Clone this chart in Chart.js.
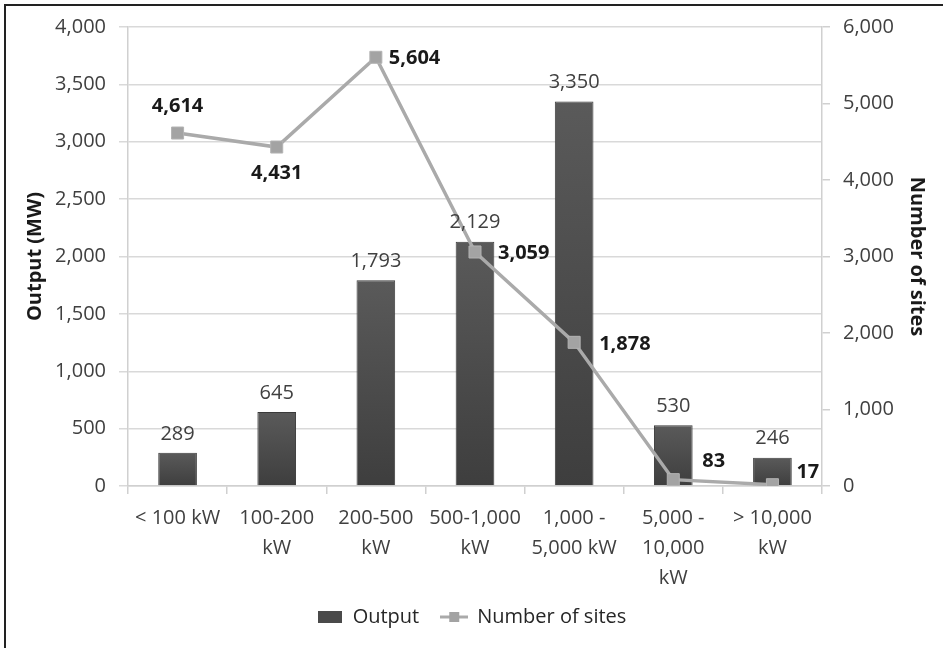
<!DOCTYPE html>
<html>
<head>
<meta charset="utf-8">
<script src="https://cdn.jsdelivr.net/npm/chart.js@4"></script>
<style>
  body { margin: 0; background: #fff; }
  #wrap { position: relative; width: 943px; height: 648px; }
  #frame { position: absolute; left: 4px; top: 4px; width: 960px; height: 660px;
           border-left: 2px solid #222; border-top: 2px solid #222; pointer-events: none; }
</style>
</head>
<body>
<div id="wrap">
  <canvas id="chart"></canvas>
  <div id="frame"></div>
</div>
<script>
// data
var categories = ['< 100 kW', ['100-200', 'kW'], ['200-500', 'kW'], ['500-1,000', 'kW'],
                  ['1,000 -', '5,000 kW'], ['5,000 -', '10,000', 'kW'], ['> 10,000', 'kW']];
var outputMW = [289, 645, 1793, 2129, 3350, 530, 246];
var sites = [4614, 4431, 5604, 3059, 1878, 83, 17];
var outputTicks = { max: 4000, step: 500 };
var sitesTicks = { max: 6000, step: 1000 };

var FONT = "'Open Sans', sans-serif";
var fmt = function(v) { return Number(v).toLocaleString('en-US'); };

// where each site label sits relative to its marker
var siteLabelPos = [[0, -27, 'center'], [0, 26, 'center'], [13, 1, 'left'], [23, 1, 'left'],
                    [25, 2, 'left'], [29, -18, 'left'], [24, -12, 'left']];

// legend icons
function barIcon() {
    var c = document.createElement('canvas');
    c.width = 24; c.height = 12;
    var g = c.getContext('2d');
    g.fillStyle = '#4a4a4a';
    g.fillRect(0, 0, 24, 12);
    return c;
}
function lineIcon() {
    var c = document.createElement('canvas');
    c.width = 28; c.height = 12;
    var g = c.getContext('2d');
    g.strokeStyle = '#aaaaaa'; g.lineWidth = 3;
    g.beginPath(); g.moveTo(0, 6); g.lineTo(28, 6); g.stroke();
    g.fillStyle = '#a3a3a3';
    g.fillRect(9, 1, 10, 10);
    return c;
}

var valueLabels = {
    id: 'valueLabels',
    afterDatasetsDraw: function(chart) {
        var ctx = chart.ctx;
        ctx.save();
        ctx.textBaseline = 'middle';
        // bar values
        ctx.font = '20px ' + FONT;
        ctx.fillStyle = '#404040';
        ctx.textAlign = 'center';
        chart.getDatasetMeta(0).data.forEach(function(el, i) {
            ctx.fillText(fmt(outputMW[i]), el.x, el.y - 19);
        });
        // site counts
        ctx.font = 'bold 20px ' + FONT;
        ctx.fillStyle = '#1a1a1a';
        chart.getDatasetMeta(1).data.forEach(function(el, i) {
            var p = siteLabelPos[i];
            ctx.textAlign = p[2];
            ctx.fillText(fmt(sites[i]), el.x + p[0], el.y + p[1]);
        });
        ctx.restore();
    }
};

var barFill = function(c) {
    var chart = c.chart;
    if (!chart.chartArea) return '#4d4d4d';
    var top = chart.scales.y.getPixelForValue(c.raw);
    var bottom = chart.scales.y.getPixelForValue(0);
    if (!isFinite(top) || bottom - top < 1) return '#4d4d4d';
    var g = chart.ctx.createLinearGradient(0, top, 0, bottom);
    g.addColorStop(0, '#5a5a5a');
    g.addColorStop(1, '#3e3e3e');
    return g;
};

new Chart(document.getElementById('chart'), {
    type: 'bar',
    data: {
        labels: categories,
        datasets: [
            {
                label: 'Output',
                data: outputMW,
                yAxisID: 'y',
                order: 1,
                backgroundColor: barFill,
                borderColor: '#3a3a3a',
                borderWidth: 1,
                barPercentage: 0.39,
                categoryPercentage: 1
            },
            {
                type: 'line',
                label: 'Number of sites',
                data: sites,
                yAxisID: 'y2',
                order: 0,
                borderColor: '#aaaaaa',
                borderWidth: 3.5,
                pointStyle: 'rect',
                pointRadius: 8.5,
                pointBackgroundColor: '#a3a3a3',
                pointBorderColor: '#b3b3b3',
                pointBorderWidth: 1,
                tension: 0
            }
        ]
    },
    options: {
        responsive: true,
        maintainAspectRatio: false,
        animation: false,
        layout: { padding: { left: 0, right: 0, top: 27, bottom: 11 } },
        plugins: {
            tooltip: { enabled: false },
            legend: {
                position: 'bottom',
                labels: {
                    usePointStyle: true,
                    pointStyleWidth: 26,
                    padding: 22,
                    color: '#262626',
                    font: { family: FONT, size: 20 },
                    generateLabels: function(chart) {
                        var items = Chart.defaults.plugins.legend.labels.generateLabels(chart);
                        items.sort(function(a, b) { return a.datasetIndex - b.datasetIndex; });
                        items.forEach(function(it) {
                            it.pointStyle = it.datasetIndex === 0 ? barIcon() : lineIcon();
                        });
                        return items;
                    }
                }
            }
        },
        scales: {
            x: {
                grid: { offset: true, drawOnChartArea: false, color: '#d0d0d0', lineWidth: 1.5, tickLength: 8 },
                border: { color: '#d0d0d0', width: 1.5 },
                ticks: { color: '#404040', padding: 9, maxRotation: 0, autoSkip: false,
                         font: { family: FONT, size: 20, lineHeight: 1.5 } },
                afterFit: function(s) { s.height = 99; }
            },
            y: {
                position: 'left',
                min: 0, max: outputTicks.max,
                grid: { color: '#d9d9d9', lineWidth: 1.5, tickLength: 9 },
                border: { color: '#d0d0d0', width: 1.5 },
                ticks: { stepSize: outputTicks.step, color: '#404040', padding: 13,
                         font: { family: FONT, size: 20 }, callback: fmt },
                title: { display: true, text: 'Output (MW)', color: '#1a1a1a',
                         padding: { top: 23, bottom: 0 },
                         font: { family: FONT, size: 20, weight: 'bold' } },
                afterFit: function(s) { s.width = 128; }
            },
            y2: {
                position: 'right',
                min: 0, max: sitesTicks.max,
                grid: { drawOnChartArea: false, color: '#d0d0d0', lineWidth: 1.5, tickLength: 8 },
                border: { color: '#d0d0d0', width: 1.5 },
                ticks: { stepSize: sitesTicks.step, color: '#404040', padding: 13,
                         font: { family: FONT, size: 20 }, callback: fmt },
                title: { display: true, text: 'Number of sites', color: '#1a1a1a',
                         padding: { top: 14, bottom: 0 },
                         font: { family: FONT, size: 20, weight: 'bold' } },
                afterFit: function(s) { s.width = 121; }
            }
        }
    },
    plugins: [valueLabels]
});
</script>
</body>
</html>
